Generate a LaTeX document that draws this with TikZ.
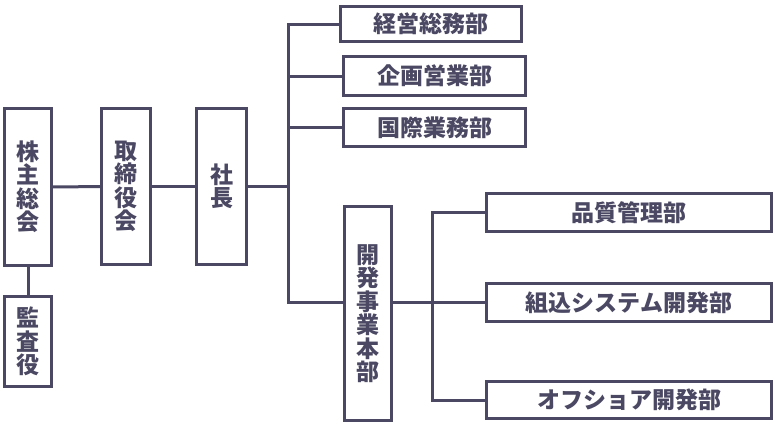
\documentclass[tikz,border=0pt]{standalone}
\usepackage{fontspec}
\usepackage{tikz}
\newfontfamily\jp{Noto Sans CJK JP}
\definecolor{slate}{HTML}{4A4862}

\begin{document}
\begin{tikzpicture}[x=1pt,y=-1pt,
  org/.style={draw=slate,line width=3pt,fill=white,inner sep=0pt,text=slate,font=\jp\bfseries\fontsize{23}{23.5}\selectfont,align=center},
  conn/.style={draw=slate,line width=3pt}]
\useasboundingbox (0,0) rectangle (775,424);
% left column
\node[org,minimum width=47pt,minimum height=157pt] (kabu) at (28,187) {株\\主\\総\\会};
\node[org,minimum width=47pt,minimum height=90pt] (kansa) at (28,341.5) {監\\査\\役};
\node[org,minimum width=49pt,minimum height=156pt] (tori) at (126,186.5) {取\\締\\役\\会};
\node[org,minimum width=50pt,minimum height=156pt] (shacho) at (221.5,186.5) {社\\長};
% departments
\node[org,minimum width=181pt,minimum height=35pt] (keiei) at (431,24) {経営総務部};
\node[org,minimum width=182pt,minimum height=39pt] (kikaku) at (434.5,76) {企画営業部};
\node[org,minimum width=182pt,minimum height=38pt] (kokusai) at (434.5,127.5) {国際業務部};
\node[org,minimum width=47pt,minimum height=214pt] (kaihatsu) at (368,313.5) {開\\発\\事\\業\\本\\部};
\node[org,minimum width=285pt,minimum height=38pt] (hinshitsu) at (629,212.5) {品質管理部};
\node[org,minimum width=285pt,minimum height=38pt] (kumikomi) at (629,302.5) {組込システム開発部};
\node[org,minimum width=285pt,minimum height=37pt] (offshore) at (629,400) {オフショア開発部};
\coordinate (t) at (288,186);
\coordinate (u) at (432,303);
% lines
\draw[conn] (kabu.south) -- (kansa.north);
\draw[conn] (kabu) -- (tori);
\draw[conn] (tori) -- (shacho);
\draw[conn] (shacho.east |- t) -- (t);
\draw[conn] (keiei.west) -| (t |- kumikomi) -- (kaihatsu.west |- kumikomi);
\draw[conn] (kikaku.west) -- (t |- kikaku);
\draw[conn] (kokusai.west) -- (t |- kokusai);
\draw[conn] (hinshitsu.west) -| (u |- offshore) -- (offshore.west);
\draw[conn] (kaihatsu.east |- kumikomi) -- (kumikomi.west);
\end{tikzpicture}
\end{document}
